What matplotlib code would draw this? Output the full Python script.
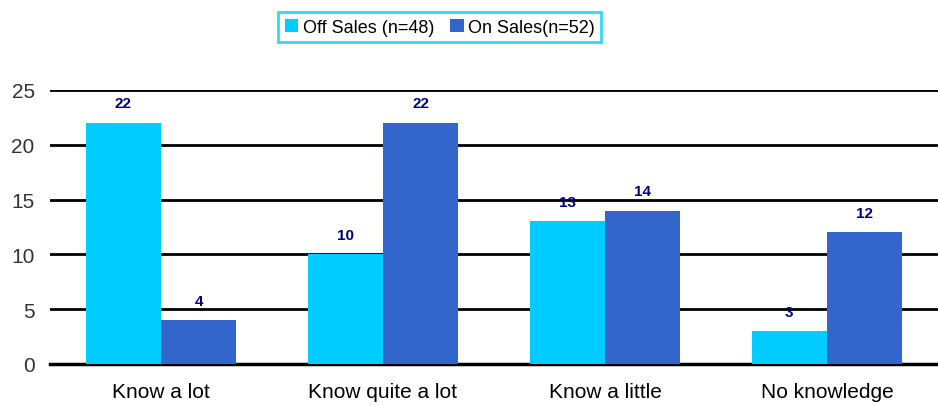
import numpy as np
import matplotlib.pyplot as plt

plt.rcParams['font.family'] = ['Liberation Sans', 'DejaVu Sans']

categories = ["Know a lot", "Know quite a lot", "Know a little", "No knowledge"]
off_sales = [22, 10, 13, 3]
on_sales = [4, 22, 14, 12]
series_names = ["Off Sales (n=48)", "On Sales(n=52)"]

fig = plt.figure(figsize=(9.38, 4.06), dpi=100)
ax = fig.add_axes([0.0533, 0.101, 0.9467, 0.675])

x = np.arange(len(categories))
w = 0.34
b1 = ax.bar(x - w / 2, off_sales, w, color="#00CCFF", label=series_names[0], zorder=3)
b2 = ax.bar(x + w / 2, on_sales, w, color="#3366CC", label=series_names[1], zorder=3)

for bars, vals in ((b1, off_sales), (b2, on_sales)):
    for rect, v in zip(bars, vals):
        ax.annotate(str(v), (rect.get_x() + rect.get_width() / 2, v),
                    xytext=(0, 14), textcoords="offset points",
                    ha="center", va="center", fontsize=11, fontweight="bold",
                    color="#000080", zorder=4)

ax.set_xlim(-0.5, 3.5)
ax.set_ylim(0, 25)
ax.set_yticks(range(0, 26, 5))
ax.yaxis.grid(True, color="black", linewidth=2, zorder=0)
ax.set_axisbelow(True)
for s in ax.spines.values():
    s.set_visible(False)
ax.tick_params(axis="both", length=0, labelsize=15, colors="#333333")
ax.tick_params(axis="x", pad=13, colors="black")
ax.tick_params(axis="y", pad=11)
ax.set_xticks(x)
ax.set_xticklabels(categories)
ax.axhline(0, color="black", linewidth=2.5, zorder=2, clip_on=False)

leg = fig.legend(loc="center", bbox_to_anchor=(0.469, 0.931), ncol=2,
                 fontsize=13, frameon=True, fancybox=False,
                 handlelength=0.75, handleheight=0.75, handletextpad=0.25,
                 columnspacing=0.9, borderpad=0.35, borderaxespad=0)
leg.get_frame().set_edgecolor("#00CCFF")
leg.get_frame().set_linewidth(2)

fig.savefig("out.png", dpi=100)
